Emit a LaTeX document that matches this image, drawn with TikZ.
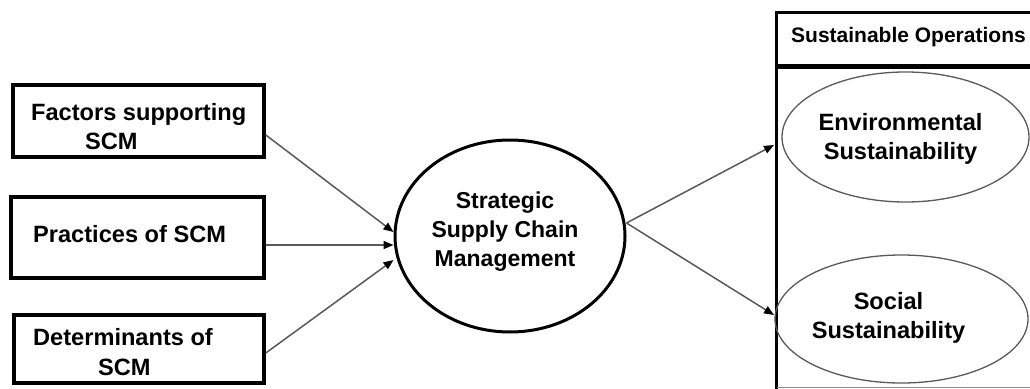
\documentclass[tikz,border=0pt]{standalone}
\usepackage{fontspec}
\setmainfont{Liberation Sans}
\usetikzlibrary{arrows.meta,shapes.geometric}
\begin{document}
\begin{tikzpicture}[x=1pt,y=-1pt,
  txt/.style={font=\fontsize{23.6}{29.5}\selectfont\bfseries, inner sep=0pt},
  ctxt/.style={font=\fontsize{23}{29}\selectfont\bfseries, inner sep=0pt},
  box/.style={draw=black, line width=3.6pt, inner sep=0pt},
  mainoval/.style={ellipse, draw=black, line width=3pt, inner sep=0pt},
  oval/.style={ellipse, draw=black!65, line width=1.3pt, inner sep=0pt},
  conn/.style={draw=black!65, line width=1.5pt, -{Triangle[length=10pt,width=8pt,color=black]}},
  frame/.style={draw=black, line width=3.4pt}
]
\useasboundingbox (0,0) rectangle (1030,388);

% left boxes
\node[box, minimum width=251pt, minimum height=72pt] (f) at (138.5,121) {};
\node[box, minimum width=253pt, minimum height=81pt] (p) at (137.5,237.5) {};
\node[box, minimum width=250pt, minimum height=68pt] (d) at (139,349) {};
\node[txt, align=left, anchor=west] (ft) at (31,126.5) {Factors supporting\\\hspace*{54pt}SCM};
\node[txt, anchor=west] (pt) at (33,234) {Practices of SCM};
\node[txt, align=left, anchor=west] (dt) at (33,352) {Determinants of\\\hspace*{65pt}SCM};

% central ellipse
\node[mainoval, minimum width=230pt, minimum height=192pt,
      label={[ctxt, align=center, xshift=-5pt, yshift=4pt]center:Strategic\\Supply Chain\\Management}] (s) at (510,236) {};

% right frame
\draw[frame] (776.5,12.5) -- (1035,12.5);
\draw[frame] (776.5,10.8) -- (776.5,392);
\draw[draw=black, line width=5.5pt] (776.5,66.5) -- (1035,66.5);
\draw[draw=black!45, line width=0.8pt] (776.5,387.4) -- (1035,387.4);
\node[font=\fontsize{21}{26}\selectfont\bfseries, inner sep=0pt, anchor=west] (so) at (791,37) {Sustainable Operations};

\node[oval, minimum width=247pt, minimum height=130pt,
      label={[txt, align=center, xshift=-5pt, yshift=-2pt]center:Environmental\\Sustainability}] (env) at (905.5,137) {};
\node[oval, minimum width=253pt, minimum height=128pt,
      label={[txt, align=center, xshift=-13pt, yshift=1pt]center:Social\\Sustainability}] (soc) at (901.5,319) {};

\coordinate (ein) at (774,145);
\coordinate (sin) at (774,315);

% connectors
\draw[conn] ([yshift=-14pt]f.east) -- ([yshift=4pt]s.west);
\draw[conn] ([yshift=-7.5pt]p.east) -- ([yshift=-9pt]s.west);
\draw[conn] ([yshift=-4pt]d.east) -- ([yshift=-24pt]s.west);
\draw[conn] ([yshift=13pt]s.east) -- (ein);
\draw[conn] ([yshift=13pt]s.east) -- (sin);
\end{tikzpicture}
\end{document}
